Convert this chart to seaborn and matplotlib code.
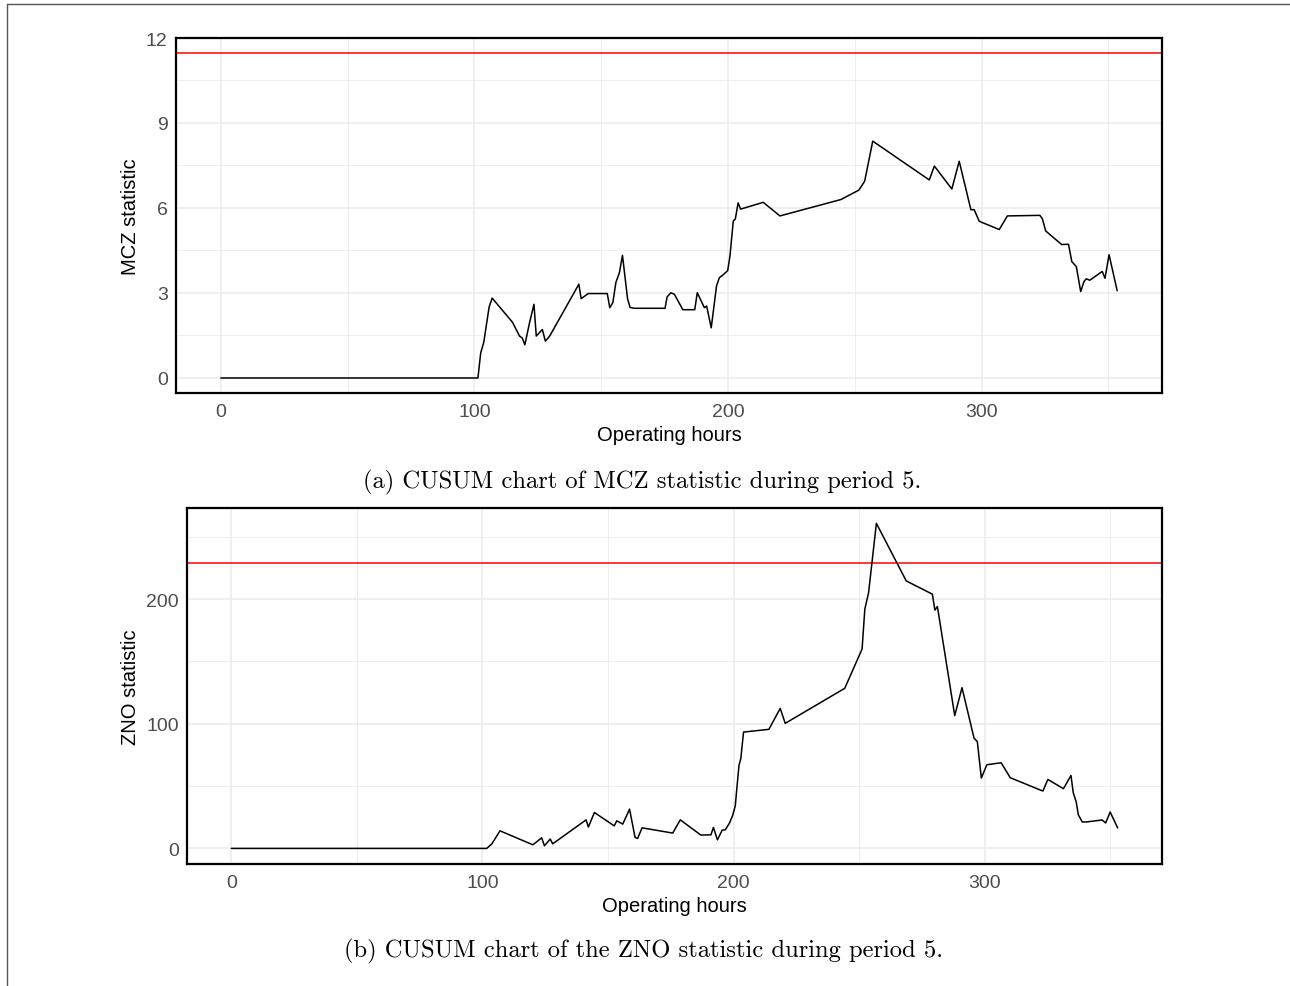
import numpy as np
import pandas as pd
import matplotlib
matplotlib.use("Agg")
import matplotlib.pyplot as plt
from matplotlib.lines import Line2D
from matplotlib.ticker import MultipleLocator
import seaborn as sns

# CUSUM of the MCZ statistic (period 5)
hours_mcz = [0, 101.4, 102.5, 103.7, 105.8, 107.0, 115.0, 117.8, 118.9, 119.9, 121.8,
             123.5, 124.4, 126.8, 128.0, 129.7, 141.2, 142.1, 144.9, 152.4, 153.4, 154.6,
             155.8, 157.2, 158.4, 160.4, 161.4, 163.1, 175.2, 176.0, 177.5, 178.9, 182.2,
             186.9, 187.9, 190.7, 191.6, 193.4, 195.5, 196.6, 198.2, 199.9, 200.8, 202.1,
             202.9, 204.0, 205.0, 213.9, 220.5, 244.6, 251.6, 253.9, 257.1, 279.4, 281.4,
             288.3, 291.2, 295.8, 297.1, 299.1, 307.0, 310.2, 323.0, 324.0, 325.3, 331.6,
             334.3, 335.6, 337.4, 339.1, 340.4, 341.3, 342.7, 347.6, 348.7, 350.3, 353.5]
mcz = [0, 0, 0.89, 1.26, 2.50, 2.82, 1.97, 1.48, 1.41, 1.17, 1.97,
       2.60, 1.48, 1.71, 1.30, 1.48, 3.31, 2.80, 2.98, 2.98, 2.48, 2.66,
       3.37, 3.72, 4.33, 2.80, 2.49, 2.46, 2.46, 2.86, 3.01, 2.95, 2.41,
       2.41, 3.01, 2.48, 2.54, 1.77, 3.25, 3.54, 3.65, 3.79, 4.31, 5.54,
       5.61, 6.18, 5.96, 6.20, 5.72, 6.30, 6.63, 6.94, 8.36, 6.99, 7.48,
       6.67, 7.65, 5.94, 5.94, 5.53, 5.24, 5.72, 5.74, 5.62, 5.19, 4.71,
       4.72, 4.11, 3.93, 3.05, 3.40, 3.50, 3.45, 3.76, 3.52, 4.35, 3.08]
limit_mcz = 11.47

# CUSUM of the ZNO statistic (period 5)
hours_zno = [0, 101.7, 103.7, 107.0, 120.1, 123.6, 124.7, 127.0, 128.0, 141.3, 142.2,
             144.6, 152.5, 153.5, 155.9, 158.6, 160.8, 161.8, 163.6, 175.8, 178.8, 187.0,
             191.0, 192.0, 193.6, 195.5, 196.7, 198.4, 199.7, 200.7, 201.6, 202.2, 202.9,
             204.0, 214.1, 218.6, 220.6, 244.3, 251.2, 252.3, 253.8, 256.9, 268.8, 279.2,
             280.2, 281.2, 288.1, 291.0, 295.8, 297.1, 298.7, 300.9, 306.6, 310.2, 323.2,
             325.2, 331.4, 334.4, 335.3, 336.5, 337.3, 338.9, 340.5, 346.8, 348.2, 350.0, 353.0]
zno = [0, 0, 3.5, 14.1, 2.9, 8.5, 2.1, 7.5, 3.7, 22.9, 17.1,
       28.8, 18.1, 22.1, 19.5, 31.5, 8.8, 8.0, 16.5, 12.3, 22.9, 10.7,
       10.9, 16.8, 6.9, 14.7, 14.9, 20.3, 26.7, 34.1, 54.1, 66.7, 72.0,
       93.3, 95.5, 112.3, 100.3, 128.4, 159.9, 191.9, 205.2, 260.7, 214.5, 203.9,
       191.1, 194.0, 106.5, 128.9, 88.4, 85.7, 56.4, 67.1, 68.7, 56.7, 46.0,
       55.3, 47.9, 58.5, 44.7, 37.2, 27.1, 21.2, 21.2, 22.8, 20.4, 29.2, 16.4]
limit_zno = 229

x_ticks = [0, 100, 200, 300]
y_ticks_mcz = [0, 3, 6, 9, 12]
y_ticks_zno = [0, 100, 200]
y_range_mcz = (-0.53, 12.0)
y_range_zno = (-12.5, 273.0)

x_title = "Operating hours"
y_title_mcz = "MCZ statistic"
y_title_zno = "ZNO statistic"
caption_mcz = "(a) CUSUM chart of MCZ statistic during period 5."
caption_zno = "(b) CUSUM chart of the ZNO statistic during period 5."

sns.set_style("white")
plt.rcParams["font.family"] = ["Liberation Sans", "DejaVu Sans"]

fig = plt.figure(figsize=(12.9, 9.87), dpi=100)
fig.patch.set_facecolor("white")

TICK_GREY = "#4D4D4D"
GRID = "#EBEBEB"


def padded(lo, hi, frac=0.05):
    span = hi - lo
    return lo - frac * span, hi + frac * span


def cusum_panel(rect, hours, values, limit, yticks, ystep_minor, yrange, ytitle):
    ax = fig.add_axes(rect)
    df = pd.DataFrame({"hours": hours, "value": values})
    sns.lineplot(data=df, x="hours", y="value", ax=ax, color="black",
                 linewidth=1.1, estimator=None, sort=False, zorder=3)
    ax.axhline(limit, color="#FF0000", linewidth=1.1, zorder=2)

    ax.set_xlim(*padded(min(hours), max(hours)))
    ax.set_ylim(*yrange)

    ax.set_xticks(x_ticks)
    ax.set_yticks(yticks)
    ax.xaxis.set_minor_locator(MultipleLocator(50))
    ax.yaxis.set_minor_locator(MultipleLocator(ystep_minor))
    ax.grid(which="major", color=GRID, linewidth=1.1, zorder=0)
    ax.grid(which="minor", color=GRID, linewidth=0.6, zorder=0)
    ax.set_axisbelow(True)

    ax.tick_params(which="major", length=3.5, width=0.8, color="#333333",
                   labelsize=14, labelcolor=TICK_GREY, pad=2.5)
    ax.tick_params(axis="x", which="major", pad=4)
    ax.tick_params(which="minor", length=0)
    for s in ax.spines.values():
        s.set_color("black")
        s.set_linewidth(1.6)

    ax.set_xlabel(x_title, fontsize=14.5, color="black", labelpad=3.5)
    ax.set_ylabel(ytitle, fontsize=14.5, color="black", labelpad=4)
    return ax


W, H = 1290, 987
ax_a = cusum_panel([176 / W, 1 - 394 / H, (1162 - 176) / W, (394 - 39) / H],
                   hours_mcz, mcz, limit_mcz, y_ticks_mcz, 1.5, y_range_mcz, y_title_mcz)
ax_b = cusum_panel([187 / W, 1 - 865 / H, (1162 - 187) / W, (865 - 509) / H],
                   hours_zno, zno, limit_zno, y_ticks_zno, 50, y_range_zno, y_title_zno)

fig.text(642 / W, 1 - 482 / H, caption_mcz, fontfamily="cmr10", fontsize=17.7,
         ha="center", va="center", color="black")
fig.text(643 / W, 1 - 951 / H, caption_zno, fontfamily="cmr10", fontsize=17.7,
         ha="center", va="center", color="black")

# page frame
fig.add_artist(Line2D([7 / W, 1.0], [1 - 5 / H, 1 - 5 / H], transform=fig.transFigure,
                      color="#555555", linewidth=1.0))
fig.add_artist(Line2D([7 / W, 7 / W], [1 - 5 / H, 0.0], transform=fig.transFigure,
                      color="#555555", linewidth=1.0))

fig.savefig("out.png", dpi=100)
